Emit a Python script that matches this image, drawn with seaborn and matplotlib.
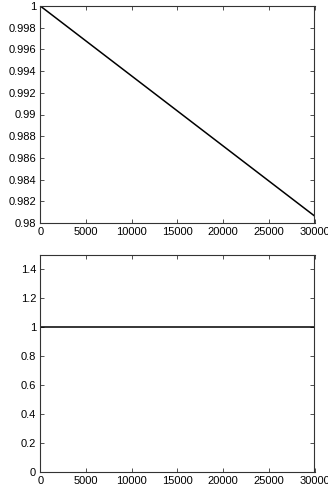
import matplotlib
matplotlib.use("Agg")
import matplotlib.pyplot as plt
import seaborn as sns
import pandas as pd

# data
top_x = [0, 30000]
top_y = [1.0, 0.98065]
bottom_x = [0, 30000]
bottom_y = [1.0, 1.0]
x_ticks = [0, 5000, 10000, 15000, 20000, 25000, 30000]
top_yticks = [0.98, 0.982, 0.984, 0.986, 0.988, 0.99, 0.992, 0.994, 0.996, 0.998, 1.0]
top_ylabels = ["0.98", "0.982", "0.984", "0.986", "0.988", "0.99", "0.992", "0.994", "0.996", "0.998", "1"]
bottom_yticks = [0, 0.2, 0.4, 0.6, 0.8, 1.0, 1.2, 1.4]
bottom_ylabels = ["0", "0.2", "0.4", "0.6", "0.8", "1", "1.2", "1.4"]

sns.set_style("ticks")
plt.rcParams['font.family'] = ['Liberation Sans', 'DejaVu Sans']
plt.rcParams['font.size'] = 8

W, H = 328, 493
fig = plt.figure(figsize=(W / 100, H / 100), dpi=100)

def px_axes(l, t, r, b):
    return fig.add_axes([l / W, 1 - b / H, (r - l) / W, (b - t) / H])

ax1 = px_axes(40.3, 6, 314.5, 223)
ax2 = px_axes(40.3, 254.7, 314.5, 472)

df1 = pd.DataFrame({"x": top_x, "y": top_y})
df2 = pd.DataFrame({"x": bottom_x, "y": bottom_y})
sns.lineplot(data=df1, x="x", y="y", ax=ax1, color="black", linewidth=1.1)
sns.lineplot(data=df2, x="x", y="y", ax=ax2, color="black", linewidth=1.1)

ax1.set_xlim(0, 30000)
ax1.set_ylim(0.98, 1.0)
ax1.set_yticks(top_yticks)
ax1.set_yticklabels(top_ylabels)
ax2.set_xlim(0, 30000)
ax2.set_ylim(0, 1.5)
ax2.set_yticks(bottom_yticks)
ax2.set_yticklabels(bottom_ylabels)

for ax in (ax1, ax2):
    ax.set_xticks(x_ticks)
    ax.set_xticklabels([str(v) for v in x_ticks])
    ax.set_xlabel("")
    ax.set_ylabel("")
    for s in ax.spines.values():
        s.set_visible(True)
        s.set_color("#333333")
        s.set_linewidth(0.8)
    ax.tick_params(direction="in", top=True, right=True, length=3, width=0.6,
                   colors="#333333", labelcolor="black", labelsize=8, pad=3)

fig.savefig("out.png", dpi=100)
